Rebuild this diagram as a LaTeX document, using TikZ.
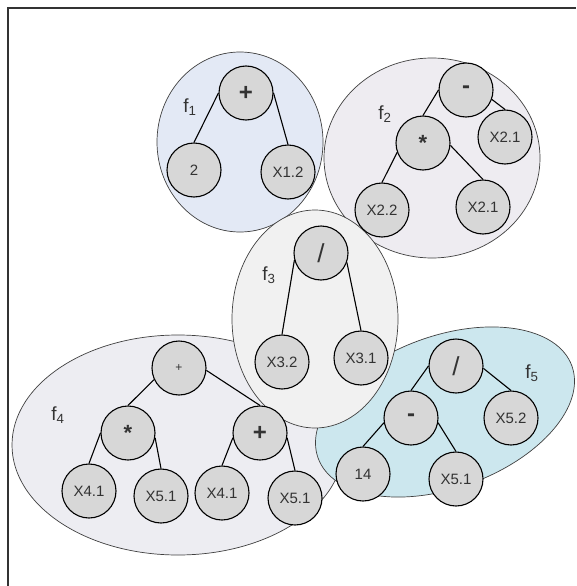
\documentclass[tikz,border=0pt]{standalone}
\usepackage{fontspec}
\setmainfont{Liberation Sans}
\definecolor{fone}{HTML}{E3E9F5}
\definecolor{ftwo}{HTML}{EEECF1}
\definecolor{fthree}{HTML}{F1F1F1}
\definecolor{ffour}{HTML}{EDEDF2}
\definecolor{ffive}{HTML}{CCE7EE}
\definecolor{nodefill}{HTML}{D7D7D7}
\definecolor{txt}{HTML}{333333}
\definecolor{rim}{HTML}{404040}
\begin{document}
\begin{tikzpicture}[x=1pt,y=-1pt,
  region/.style={draw=rim,line width=0.7pt},
  tn/.style={circle,draw=black,line width=1.1pt,fill=nodefill,minimum size=54pt,inner sep=0pt,text=txt,font=\fontsize{15}{17}\selectfont},
  opbig/.style={font=\fontsize{24}{26}\selectfont\bfseries},
  opslash/.style={font=\fontsize{26}{28}\selectfont},
  opsmall/.style={font=\fontsize{12}{14}\selectfont},
  opstar/.style={font=\fontsize{22}{24}\selectfont\bfseries},
  lab/.style={text=txt,font=\fontsize{19}{21}\selectfont},
  edge/.style={line width=1.1pt,draw=black}]
\useasboundingbox (0,0) rectangle (576,586);
\fill[white] (0,0) rectangle (576,586);
\draw[line width=1.3pt,draw=black!80] (8,586) -- (8,8) -- (576,8);

% regions
\draw[region,fill=ffour] (178,445) ellipse [x radius=166, y radius=110];
\draw[region,fill=fone] (240,142) ellipse [x radius=83, y radius=90];
\draw[region,fill=ftwo] (432,158) ellipse [x radius=108, y radius=100];
\draw[region,fill=ffive,rotate around={20:(445,412)}] (445,412) ellipse [x radius=135, y radius=76];
\draw[region,fill=fthree] (315,319) ellipse [x radius=83, y radius=109];

% labels
\node[lab] (l1) at (190,107) {f\textsubscript{1}};
\node[lab] (l2) at (385,114) {f\textsubscript{2}};
\node[lab] (l3) at (269,275) {f\textsubscript{3}};
\node[lab] (l4) at (58,415) {f\textsubscript{4}};
\node[lab] (l5) at (532,373) {f\textsubscript{5}};

% f1
\node[tn,opbig] (p1) at (246,93) {+};
\node[tn] (a2) at (194,170) {2};
\node[tn] (x12) at (288,172) {X1.2};
% f2
\node[tn,opbig] (m2) at (466,90) {-};
\node[tn,opstar] (s2) at (423,143) {*};
\node[tn] (x21a) at (505,137) {X2.1};
\node[tn] (x22) at (382,210) {X2.2};
\node[tn] (x21b) at (483,207) {X2.1};
% f3
\node[tn,opslash] (d3) at (321,253) {/};
\node[tn] (x32) at (282,362) {X3.2};
\node[tn] (x31) at (361,358) {X3.1};
% f4
\node[tn,opsmall] (p4) at (179,368) {+};
\node[tn,opstar] (s4) at (128,433) {*};
\node[tn,opbig] (q4) at (260,433) {+};
\node[tn] (x41a) at (89,491) {X4.1};
\node[tn] (x51a) at (161,496) {X5.1};
\node[tn] (x41b) at (222,493) {X4.1};
\node[tn] (x51b) at (295,498) {X5.1};
% f5
\node[tn,opslash] (d5) at (456,366) {/};
\node[tn,opbig] (m5) at (411,418) {-};
\node[tn] (x52) at (511,418) {X5.2};
\node[tn] (n14) at (363,474) {14};
\node[tn] (x51c) at (456,479) {X5.1};

% edges
\draw[edge] (p1.west) -- (a2.north);
\draw[edge] (p1.east) -- (x12.north);
\draw[edge] (m2.west) -- (s2.north);
\draw[edge] (m2.340) -- (x21a.north);
\draw[edge] (s2.200) -- (x22.north);
\draw[edge] (s2.355) -- (x21b.north);
\draw[edge] (d3.195) -- (x32.north);
\draw[edge] (d3.340) -- (x31.north);
\draw[edge] (p4.205) -- (s4.north);
\draw[edge] (p4.355) -- (q4.north);
\draw[edge] (s4.west) -- (x41a.north);
\draw[edge] (s4.350) -- (x51a.north);
\draw[edge] (q4.190) -- (x41b.north);
\draw[edge] (q4.350) -- (x51b.north);
\draw[edge] (d5.west) -- (m5.north);
\draw[edge] (d5.355) -- (x52.north);
\draw[edge] (m5.190) -- (n14.north);
\draw[edge] (m5.350) -- (x51c.north);
\end{tikzpicture}
\end{document}
